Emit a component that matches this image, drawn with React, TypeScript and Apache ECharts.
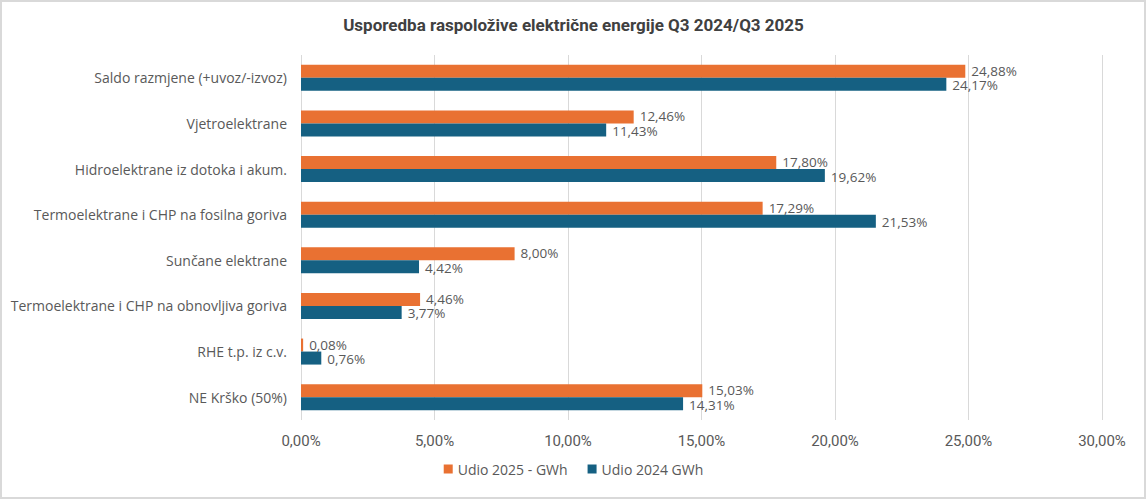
import React, { useEffect, useRef } from "react";
import * as echarts from "echarts";

const categories = [
  "Saldo razmjene (+uvoz/-izvoz)",
  "Vjetroelektrane",
  "Hidroelektrane iz dotoka i akum.",
  "Termoelektrane i CHP na fosilna goriva",
  "Sunčane elektrane",
  "Termoelektrane i CHP na obnovljiva goriva",
  "RHE t.p. iz c.v.",
  "NE Krško (50%)",
];
const udio2025 = [24.88, 12.46, 17.8, 17.29, 8.0, 4.46, 0.08, 15.03];
const udio2024 = [24.17, 11.43, 19.62, 21.53, 4.42, 3.77, 0.76, 14.31];
const seriesNames = ["Udio 2025 - GWh", "Udio 2024 GWh"];

const fmt = (v: number) => v.toFixed(2).replace(".", ",") + "%";

export default function App() {
  const ref = useRef<HTMLDivElement>(null);
  useEffect(() => {
    if (!ref.current) return;
    const chart = echarts.init(ref.current, null, { renderer: "svg" });
    const font = "'Open Sans', 'Noto Sans', sans-serif";
    const narrow = "'Liberation Sans Narrow', 'Roboto', sans-serif";
    const mkLabel = (dy: number) => ({
      show: true,
      position: "right" as const,
      distance: 6,
      offset: [0, dy],
      color: "#595959",
      fontSize: 13.5,
      fontFamily: font,
      formatter: (p: any) => fmt(p.value),
    });
    chart.setOption({
      animation: false,
      backgroundColor: "#ffffff",
      title: {
        text: "Usporedba raspoložive električne energije Q3 2024/Q3 2025",
        left: "center",
        top: 11,
        textStyle: {
          fontSize: 17,
          fontWeight: "bold",
          color: "#404040",
          fontFamily: narrow,
        },
      },
      graphic: [
        {
          type: "rect",
          shape: { x: 1, y: 1, width: 1144, height: 497 },
          style: { fill: "none", stroke: "#d9d9d9", lineWidth: 2 },
          silent: true,
        },
      ],
      legend: {
        data: seriesNames,
        bottom: 21,
        left: "center",
        itemWidth: 9,
        itemHeight: 9,
        itemGap: 20,
        icon: "rect",
        textStyle: { color: "#595959", fontSize: 14, fontFamily: font },
      },
      grid: { left: 301, right: 45, top: 55, bottom: 82, containLabel: false },
      xAxis: {
        type: "value",
        min: 0,
        max: 30,
        interval: 5,
        axisLine: { show: false },
        axisTick: { show: false },
        splitLine: { show: true, lineStyle: { color: "#d9d9d9", width: 1 } },
        axisLabel: {
          color: "#595959",
          fontSize: 15,
          margin: 13,
          fontFamily: narrow,
          formatter: (v: number) => fmt(v),
        },
      },
      yAxis: {
        type: "category",
        data: categories,
        inverse: true,
        axisLine: { show: false },
        axisTick: { show: false },
        axisLabel: { color: "#595959", fontSize: 14, margin: 14, fontFamily: font },
      },
      series: [
        {
          name: seriesNames[0],
          type: "bar",
          data: udio2025,
          itemStyle: { color: "#E97132" },
          barGap: "0%",
          barCategoryGap: "43%",
          label: mkLabel(-0.5),
        },
        {
          name: seriesNames[1],
          type: "bar",
          data: udio2024,
          itemStyle: { color: "#156082" },
          barGap: "0%",
          barCategoryGap: "43%",
          label: mkLabel(1),
        },
      ],
    });
    return () => chart.dispose();
  }, []);
  return (
    <div
      ref={ref}
      style={{ position: "fixed", left: 0, top: 0, width: 1147, height: 502 }}
    />
  );
}
